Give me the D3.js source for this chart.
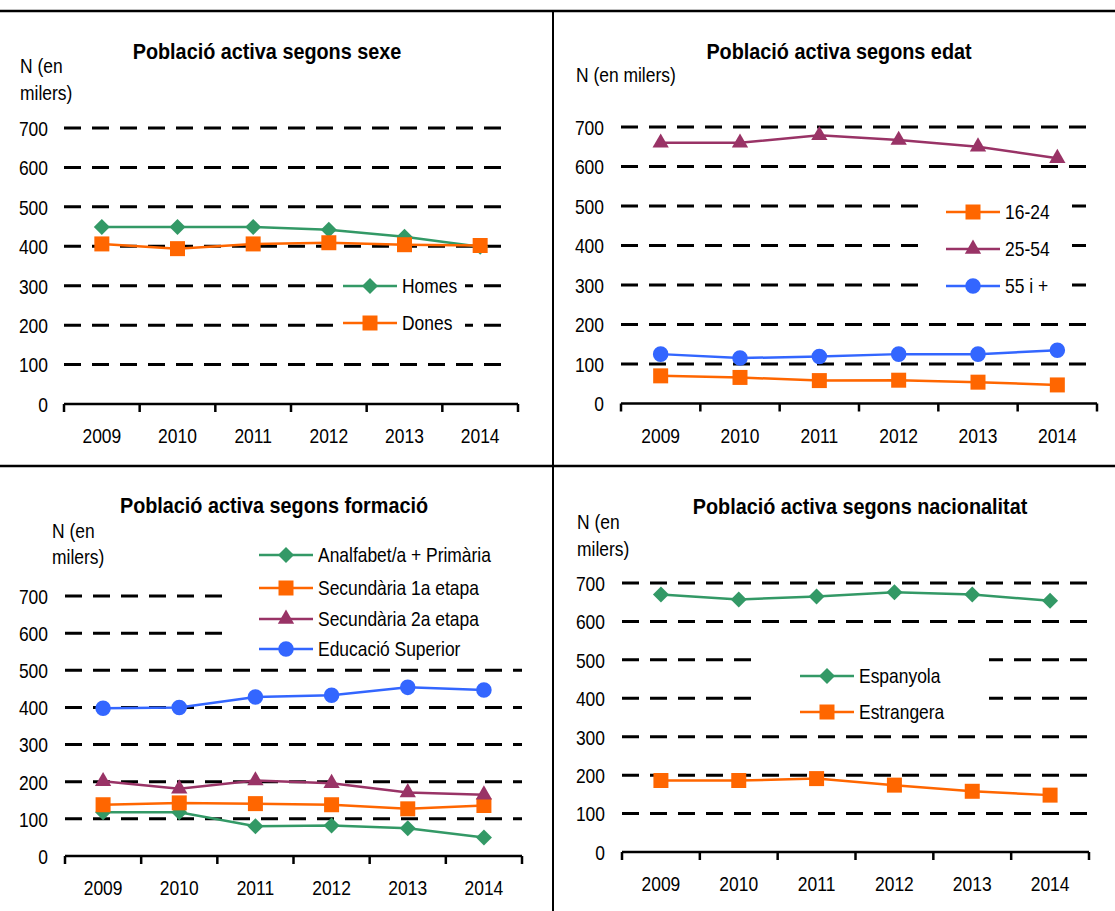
<!DOCTYPE html>
<html>
<head>
<meta charset="utf-8">
<script src="https://cdn.jsdelivr.net/npm/d3@7"></script>
<style>
  body { margin: 0; background: #fff; }
  text { font-family: "Liberation Sans", Arial, sans-serif; fill: #000; }
</style>
</head>
<body>
<div id="chart"></div>
<script>
// ---------- Data ----------
const years = ['2009', '2010', '2011', '2012', '2013', '2014'];
const yTicks = [0, 100, 200, 300, 400, 500, 600, 700];

// sexe
const homes = [449, 449, 449, 442, 424, 399];
const dones = [406, 394, 406, 409, 404, 402];

// edat
const edat1624 = [70, 66, 58, 59, 54, 47];
const edat2554 = [660, 660, 679, 667, 650, 621];
const edat55 = [125, 115, 119, 125, 125, 135];

// formació
const primaria = [118, 118, 80, 82, 75, 50];
const secundaria1 = [138, 143, 141, 138, 127, 136];
const secundaria2 = [201, 181, 203, 196, 171, 165];
const superior = [398, 400, 428, 433, 454, 447];

// nacionalitat
const espanyola = [670, 657, 665, 676, 670, 654];
const estrangera = [186, 186, 191, 174, 158, 148];

// ---------- Styles ----------
const green = '#339966', orange = '#ff6600', purple = '#993366', blue = '#3366ff';
const sym = {
  diamond: { type: d3.symbolSquare, size: 128, rot: 45 },
  square: { type: d3.symbolSquare, size: 225, rot: 0 },
  triangle: { type: d3.symbolTriangle, size: 115, rot: 0 },
  circle: { type: d3.symbolCircle, size: 190, rot: 0 }
};
const fontSize = 21;      // labels, ticks, legend
const narrow = 0.83;      // the original uses a condensed face
const titleSize = 22;
const titleNarrow = 0.9;

// ---------- Panels (layout) ----------
const panels = [
  {
    title: 'Població activa segons sexe', titleX: 267, titleY: 59,
    ylab: ['N (en', 'milers)'], ylabX: 20, ylabY: [73, 100],
    x0: 64, x1: 518, gridEnd: 507, yBottom: 404, yTop: 128, tickX: 48,
    legend: { x: 343, ys: [286, 323], box: [333, 268, 132, 74] },
    series: [
      { name: 'Homes', values: homes, color: green, marker: 'diamond' },
      { name: 'Dones', values: dones, color: orange, marker: 'square' }
    ]
  },
  {
    title: 'Població activa segons edat', titleX: 839, titleY: 59,
    ylab: ['N (en milers)'], ylabX: 576, ylabY: [82],
    x0: 621, x1: 1097, gridEnd: 1090, yBottom: 403.5, yTop: 127, tickX: 604,
    legend: { x: 946, ys: [212, 249, 286], box: [920, 194, 152, 110] },
    series: [
      { name: '16-24', values: edat1624, color: orange, marker: 'square' },
      { name: '25-54', values: edat2554, color: purple, marker: 'triangle' },
      { name: '55 i +', values: edat55, color: blue, marker: 'circle' }
    ]
  },
  {
    title: 'Població activa segons formació', titleX: 274, titleY: 513,
    ylab: ['N (en', 'milers)'], ylabX: 52, ylabY: [538, 564],
    x0: 65, x1: 522, gridEnd: 522, yBottom: 856, yTop: 596, tickX: 48,
    legend: { x: 259, ys: [555, 588, 619, 649], box: [223, 540, 320, 122] },
    series: [
      { name: 'Analfabet/a + Primària', values: primaria, color: green, marker: 'diamond' },
      { name: 'Secundària 1a etapa', values: secundaria1, color: orange, marker: 'square' },
      { name: 'Secundària 2a etapa', values: secundaria2, color: purple, marker: 'triangle' },
      { name: 'Educació Superior', values: superior, color: blue, marker: 'circle' }
    ]
  },
  {
    title: 'Població activa segons nacionalitat', titleX: 860, titleY: 514,
    ylab: ['N (en', 'milers)'], ylabX: 577, ylabY: [529, 556],
    x0: 622, x1: 1089, gridEnd: 1090, yBottom: 852, yTop: 583, tickX: 605,
    legend: { x: 800, ys: [676, 712], box: [753, 650, 236, 80] },
    series: [
      { name: 'Espanyola', values: espanyola, color: green, marker: 'diamond' },
      { name: 'Estrangera', values: estrangera, color: orange, marker: 'square' }
    ]
  }
];

const W = 1115, H = 911;
const svg = d3.select('#chart').append('svg')
  .attr('width', W).attr('height', H);

// Frame lines
svg.append('line').attr('x1', 0).attr('x2', W).attr('y1', 11).attr('y2', 11)
  .attr('stroke', '#000').attr('stroke-width', 2.5);
svg.append('line').attr('x1', 0).attr('x2', W).attr('y1', 466).attr('y2', 466)
  .attr('stroke', '#000').attr('stroke-width', 2.5);
svg.append('line').attr('x1', 553).attr('x2', 553).attr('y1', 11).attr('y2', H)
  .attr('stroke', '#000').attr('stroke-width', 2);

function markerPath(m) {
  return d3.symbol().type(sym[m].type).size(sym[m].size)();
}

function drawPanel(p) {
  const g = svg.append('g');
  const x = d3.scaleBand().domain(years).range([p.x0, p.x1]).padding(0);
  const y = d3.scaleLinear().domain([0, 700]).range([p.yBottom, p.yTop]);

  // gridlines
  g.selectAll('.grid').data(yTicks.filter(d => d > 0)).enter()
    .append('line')
    .attr('x1', p.x0).attr('x2', p.gridEnd)
    .attr('y1', d => y(d)).attr('y2', d => y(d))
    .attr('stroke', '#000').attr('stroke-width', 3)
    .attr('stroke-dasharray', '17,11');

  // y axis labels
  const yAxis = d3.axisLeft(y).tickValues(yTicks).tickSize(0).tickPadding(0);
  const ya = g.append('g').attr('transform', `translate(${p.tickX},0)`).call(yAxis);
  ya.select('.domain').remove();
  ya.selectAll('text').style('font-size', fontSize + 'px').attr('dy', '0.35em').attr('fill', '#000');

  // x axis
  const xa = g.append('g').attr('transform', `translate(0,${p.yBottom})`)
    .call(d3.axisBottom(x).tickSize(0).tickPadding(0));
  xa.select('.domain').remove();
  xa.selectAll('text').style('font-size', fontSize + 'px').attr('dy', null).attr('y', 39).attr('fill', '#000');
  g.append('line').attr('x1', p.x0).attr('x2', p.x1)
    .attr('y1', p.yBottom).attr('y2', p.yBottom)
    .attr('stroke', '#000').attr('stroke-width', 2.5);
  const edges = years.map(d => x(d)).concat([x(years[years.length - 1]) + x.bandwidth()]);
  g.selectAll('.xt').data(edges).enter().append('line')
    .attr('x1', d => d).attr('x2', d => d)
    .attr('y1', p.yBottom).attr('y2', p.yBottom + 8)
    .attr('stroke', '#000').attr('stroke-width', 2.5);

  // title & y label
  g.append('text').attr('class', 'title').attr('x', p.titleX).attr('y', p.titleY)
    .attr('text-anchor', 'middle').style('font-size', titleSize + 'px').style('font-weight', 'bold')
    .text(p.title);
  p.ylab.forEach((t, i) => {
    g.append('text').attr('x', p.ylabX).attr('y', p.ylabY[i]).style('font-size', fontSize + 'px').text(t);
  });

  // legend box covers gridlines
  const lg = p.legend;
  g.append('rect').attr('x', lg.box[0]).attr('y', lg.box[1])
    .attr('width', lg.box[2]).attr('height', lg.box[3]).attr('fill', '#fff');

  // series
  const line = d3.line().x((d, i) => x(years[i]) + x.bandwidth() / 2).y(d => y(d));
  p.series.forEach(s => {
    g.append('path').datum(s.values)
      .attr('d', line).attr('fill', 'none')
      .attr('stroke', s.color).attr('stroke-width', 2.5);
    g.selectAll(null).data(s.values).enter().append('path')
      .attr('d', markerPath(s.marker))
      .attr('transform', (d, i) => `translate(${x(years[i]) + x.bandwidth() / 2},${y(d)}) rotate(${sym[s.marker].rot})`)
      .attr('fill', s.color);
  });

  // legend
  p.series.forEach((s, i) => {
    const ly = lg.ys[i];
    g.append('line').attr('x1', lg.x).attr('x2', lg.x + 54)
      .attr('y1', ly).attr('y2', ly)
      .attr('stroke', s.color).attr('stroke-width', 2.5);
    g.append('path').attr('d', markerPath(s.marker))
      .attr('transform', `translate(${lg.x + 27},${ly}) rotate(${sym[s.marker].rot})`)
      .attr('fill', s.color);
    g.append('text').attr('x', lg.x + 59).attr('y', ly).attr('dy', '0.35em')
      .style('font-size', fontSize + 'px').text(s.name);
  });
}

panels.forEach(drawPanel);

// squeeze text horizontally to mimic the condensed face
svg.selectAll('text').each(function () {
  const k = this.classList.contains('title') ? titleNarrow : narrow;
  const len = this.getComputedTextLength();
  d3.select(this).attr('textLength', len * k).attr('lengthAdjust', 'spacingAndGlyphs');
});
</script>
</body>
</html>
